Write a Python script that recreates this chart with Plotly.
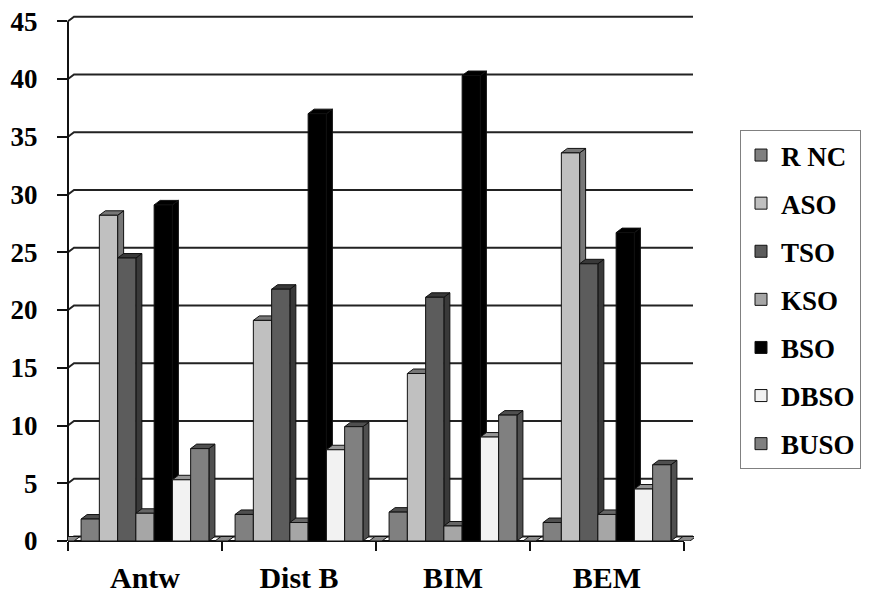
import plotly.graph_objects as go

# ---------------- data ----------------
categories = ["Antw", "Dist B", "BIM", "BEM"]
series_names = ["R NC", "ASO", "TSO", "KSO", "BSO", "DBSO", "BUSO"]
r_nc = [1.9, 2.3, 2.5, 1.6]
aso = [28.2, 19.1, 14.5, 33.6]
tso = [24.5, 21.8, 21.1, 24.0]
kso = [2.4, 1.6, 1.3, 2.3]
bso = [29.1, 37.0, 40.3, 26.7]
dbso = [5.3, 7.9, 9.0, 4.5]
buso = [8.0, 9.9, 10.9, 6.6]
y_tick_values = [0, 5, 10, 15, 20, 25, 30, 35, 40, 45]

series_values = [r_nc, aso, tso, kso, bso, dbso, buso]
series_colors = ["#808080", "#C0C0C0", "#5C5C5C", "#A6A6A6", "#000000", "#F2F2F2", "#808080"]

# ---------------- geometry (window pixels; page body has an 8px margin) ----------------
OFF = 8
W, H = 871 - OFF, 593 - OFF
L, R, T, B = 68 - OFF, 694 - OFF, 14 - OFF, 541 - OFF
PX_PER_Y = 11.55
PX_PER_CAT = 154.0
ymax = (B - T) / PX_PER_Y
xmin = -0.5
xmax = xmin + (R - L) / PX_PER_CAT
DX_PX, DY_PX = 6.0, 4.5
dxu = DX_PX / PX_PER_CAT
dyu = DY_PX / PX_PER_Y
dx_paper = DX_PX / (R - L)
GRID_DY = 4.5 / PX_PER_Y

group_frac = 0.83
nser = len(series_names)
bw = group_frac / nser

FONT = "Liberation Serif"


def darker(hexc, f):
    h = hexc.lstrip("#")
    r, g, b = (int(h[i:i + 2], 16) for i in (0, 2, 4))
    return "#%02x%02x%02x" % (int(r * f), int(g * f), int(b * f))


fig = go.Figure()
shapes = []

# back-wall gridlines with diagonal from the front axis
for v in y_tick_values:
    shapes.append(dict(
        type="path", xref="paper", yref="y", layer="below",
        path=f"M 0,{v} L {dx_paper},{v + GRID_DY} L {1 - 1.0 / (R - L)},{v + GRID_DY}",
        line=dict(color="#222222", width=2)))

# front y-axis line
shapes.append(dict(type="line", xref="paper", yref="y", layer="below",
                   x0=0, x1=0, y0=0, y1=y_tick_values[-1],
                   line=dict(color="#111111", width=2)))

# 3D faces for every bar (side + top), drawn left to right
for i in range(len(categories)):
    for j in range(nser):
        v = series_values[j][i]
        off = -group_frac / 2 + j * bw
        x0 = i + off
        x1 = x0 + bw
        shade = darker(series_colors[j], 0.62)
        shapes.append(dict(
            type="path", xref="x", yref="y", layer="below",
            path=f"M {x1},0 L {x1 + dxu},{dyu} L {x1 + dxu},{v + dyu} L {x1},{v} Z",
            fillcolor=shade, line=dict(color="#111111", width=1)))
        shapes.append(dict(
            type="path", xref="x", yref="y", layer="below",
            path=f"M {x0},{v} L {x0 + dxu},{v + dyu} L {x1 + dxu},{v + dyu} L {x1},{v} Z",
            fillcolor=shade, line=dict(color="#111111", width=1)))

# flat (zero-height) floor pieces at category boundaries
flat_w = 13.0 / PX_PER_CAT
for k in range(len(categories) + 1):
    b = k - 0.5
    x0 = b - 7.0 / PX_PER_CAT
    x1 = x0 + flat_w
    shapes.append(dict(
        type="path", xref="x", yref="y", layer="below",
        path=f"M {x0},0 L {x0 + dxu},{dyu} L {x1 + dxu},{dyu} L {x1},0 Z",
        fillcolor="#8a8a8a", line=dict(color="#111111", width=1)))

# x-axis (front floor edge)
shapes.append(dict(type="line", xref="x", yref="paper", layer="below",
                   x0=-0.5, x1=len(categories) - 0.5, y0=0, y1=0,
                   line=dict(color="#111111", width=2)))

for j, name in enumerate(series_names):
    fig.add_trace(go.Bar(
        x=list(range(len(categories))), y=series_values[j],
        width=bw, offset=-group_frac / 2 + j * bw,
        name=name, legendgroup=name,
        marker=dict(color=series_colors[j], line=dict(color="#111111", width=1)),
    ))

LEG_LEFT, LEG_TOP = 740 - OFF, 130 - OFF

fig.update_layout(
    width=W, height=H,
    margin=dict(l=L, r=W - R, t=T, b=H - B, pad=0, autoexpand=False),
    paper_bgcolor="white", plot_bgcolor="rgba(0,0,0,0)",
    barmode="overlay",
    shapes=shapes,
    showlegend=True,
    legend=dict(
        x=(LEG_LEFT - L) / (R - L), y=(B - LEG_TOP) / (B - T), xanchor="left", yanchor="top",
        bordercolor="#808080", borderwidth=1, bgcolor="white",
        font=dict(family=FONT, size=27, color="black", weight="bold"),
        tracegroupgap=10, itemwidth=30,
    ),
    xaxis=dict(
        range=[xmin, xmax], tickvals=list(range(len(categories))), ticktext=categories,
        showgrid=False, zeroline=False, showline=False, ticks="", automargin=False,
        ticklabelstandoff=16, ticklabeloverflow="allow",
        tickfont=dict(family=FONT, size=30, color="black", weight="bold"),
        minor=dict(tickvals=[k - 0.5 for k in range(len(categories) + 1)],
                   ticks="outside", ticklen=9, tickcolor="#111111", tickwidth=1.5),
    ),
    yaxis=dict(
        range=[0, ymax], tickvals=y_tick_values, automargin=False,
        showgrid=False, zeroline=False, showline=False,
        ticks="outside", ticklen=10, tickcolor="#111111", tickwidth=1.5,
        ticklabelstandoff=14, ticklabeloverflow="allow",
        tickfont=dict(family=FONT, size=27, color="black", weight="bold"),
    ),
)

fig.write_html("out.html")
